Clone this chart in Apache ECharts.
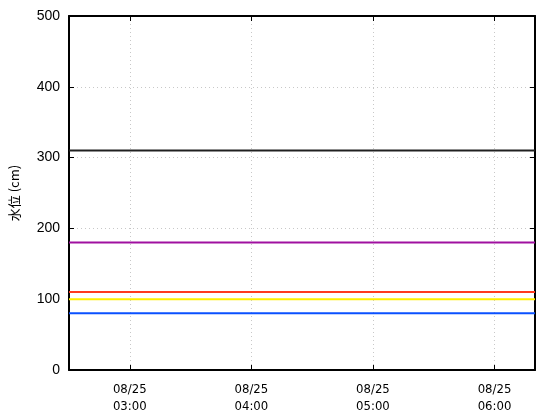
<!DOCTYPE html>
<html>
<head>
<meta charset="utf-8">
<script src="https://cdn.jsdelivr.net/npm/echarts@6/dist/echarts.min.js"></script>
<style>html,body{margin:0;padding:0;background:#fff}#c{width:560px;height:420px}</style>
</head>
<body>
<div id="c"></div>
<script>
// Data
var timeRange = ['2024-08-25 02:30', '2024-08-25 06:20'];
var levelNames = ['black', 'purple', 'red', 'yellow', 'blue'];
var levelValues = [310, 180, 110, 100, 80];
var levelColors = ['#202020', '#a010a0', '#ff3a1e', '#ffee00', '#0a50ff'];
var yTicks = [0, 100, 200, 300, 400, 500];
var yAxisName = '水位 (cm)';

var yFont = '"Liberation Sans", "Noto Sans CJK JP", sans-serif';
var xFont = '"Liberation Sans Narrow", "DejaVu Sans Condensed", "Liberation Sans", sans-serif';
var series = levelValues.map(function (v, i) {
  return {
    name: levelNames[i],
    type: 'line',
    symbol: 'none',
    silent: true,
    lineStyle: { color: levelColors[i], width: 2 },
    data: timeRange.map(function (t) { return [t, v]; })
  };
});

var chart = echarts.init(document.getElementById('c'), null, { renderer: 'canvas' });
var pad = function (n) { return (n < 10 ? '0' : '') + n; };
chart.setOption({
  animation: false,
  grid: { left: 68, right: 25, top: 16, bottom: 50, containLabel: false, show: false },
  xAxis: [{
    type: 'time',
    min: timeRange[0],
    max: timeRange[1],
    minInterval: 3600000,
    maxInterval: 3600000,
    axisLine: { show: true, onZero: false, lineStyle: { color: '#000', width: 2 } },
    axisTick: { show: true, inside: true, length: 5, lineStyle: { color: '#000', width: 1 } },
    splitLine: { show: true, lineStyle: { color: '#c8c8c8', type: [1, 3], width: 1 } },
    axisLabel: {
      color: '#000', fontFamily: xFont, fontSize: 13, lineHeight: 17, margin: 11,
      hideOverlap: false, showMinLabel: false, showMaxLabel: false,
      formatter: function (val) {
        var d = new Date(val);
        return pad(d.getMonth() + 1) + '/' + pad(d.getDate()) + '\n' + pad(d.getHours()) + ':' + pad(d.getMinutes());
      }
    }
  }, {
    type: 'time',
    position: 'top',
    min: timeRange[0],
    max: timeRange[1],
    minInterval: 3600000,
    maxInterval: 3600000,
    axisLine: { show: true, onZero: false, lineStyle: { color: '#000', width: 2 } },
    axisTick: { show: true, inside: true, length: 5, lineStyle: { color: '#000', width: 1 } },
    splitLine: { show: false },
    axisLabel: { show: false }
  }],
  yAxis: [{
    type: 'value',
    min: yTicks[0],
    max: yTicks[yTicks.length - 1],
    interval: 100,
    name: yAxisName,
    nameLocation: 'middle',
    nameGap: 48,
    nameTextStyle: { color: '#000', fontFamily: '"Noto Sans CJK JP", sans-serif', fontSize: 13 },
    axisLine: { show: true, lineStyle: { color: '#000', width: 2 } },
    axisTick: { show: true, inside: true, length: 5, lineStyle: { color: '#000', width: 1 } },
    splitLine: { show: true, lineStyle: { color: '#c8c8c8', type: [1, 3], width: 1 } },
    axisLabel: { color: '#000', fontFamily: yFont, fontSize: 14, margin: 9 }
  }, {
    type: 'value',
    position: 'right',
    min: yTicks[0],
    max: yTicks[yTicks.length - 1],
    interval: 100,
    axisLine: { show: true, lineStyle: { color: '#000', width: 2 } },
    axisTick: { show: true, inside: true, length: 5, lineStyle: { color: '#000', width: 1 } },
    splitLine: { show: false },
    axisLabel: { show: false }
  }],
  series: series
});
</script>
</body>
</html>
